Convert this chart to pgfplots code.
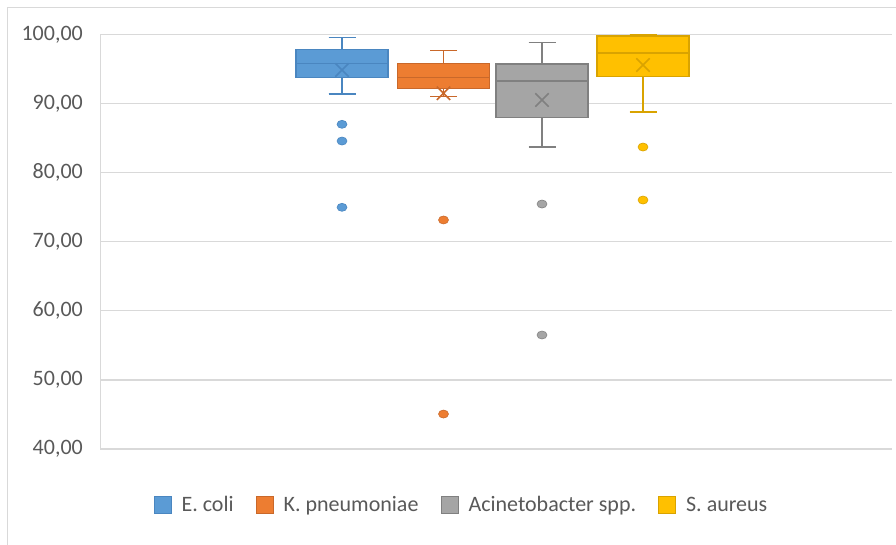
\documentclass[border=0pt]{standalone}
\usepackage{pgfplots}
\pgfplotsset{compat=1.18}
\usepgfplotslibrary{statistics}
\usepackage{fontspec}
\setmainfont{Carlito}
\definecolor{cBlue}{HTML}{5B9BD5}
\definecolor{dBlue}{HTML}{4A86C0}
\definecolor{cOrange}{HTML}{ED7D31}
\definecolor{dOrange}{HTML}{C9682A}
\definecolor{cGray}{HTML}{A5A5A5}
\definecolor{dGray}{HTML}{808080}
\definecolor{cGold}{HTML}{FFC000}
\definecolor{dGold}{HTML}{D9A300}
\definecolor{gridc}{HTML}{D9D9D9}
\definecolor{tickc}{HTML}{595959}
\begin{document}
\begin{tikzpicture}
\useasboundingbox (0,0) rectangle (896pt,545pt);
\draw[gridc, line width=0.8pt] (7.5pt,-10pt) rectangle (910pt,537.5pt);
\begin{axis}[
  at={(100pt,96pt)}, anchor=south west,
  scale only axis, width=792pt, height=414.5pt,
  xmin=100, xmax=892, ymin=40, ymax=100,
  ytick={40,50,...,100},
  xtick=\empty,
  ymajorgrids, major grid style={gridc, line width=1.3pt},
  axis line style={draw=none},
  major tick length=0pt,
  /pgf/number format/fixed, /pgf/number format/fixed zerofill,
  /pgf/number format/precision=2, /pgf/number format/use comma,
  /pgf/number format/assume math mode=true,
  yticklabel style={text=tickc, inner sep=0pt, xshift=-17pt, font=\fontsize{22}{26}\selectfont},
  boxplot/draw direction=y,
  legend image code/.code={\draw[#1] (0pt,-8.5pt) rectangle (17pt,8.5pt);},
  legend cell align=left,
  legend columns=4,
  legend style={at={(0.4564,-0.135)}, anchor=center, draw=none, fill=none,
    font=\fontsize{22}{26}\selectfont, text=tickc,
    /tikz/every odd column/.append style={column sep=8pt},
    /tikz/every even column/.append style={column sep=20pt}},
]
\draw[gridc, line width=1.3pt] (rel axis cs:0,0) -- (rel axis cs:0,1);

\addplot[forget plot, solid, draw=dBlue, fill=cBlue, line width=1.5pt,
  mark=*, mark size=5pt, mark options={fill=cBlue, draw=dBlue, line width=0.6pt, yscale=0.8},
  boxplot/every average/.style={/tikz/mark=x, /tikz/mark size=9.5pt, /tikz/mark options={draw=dBlue, line width=1.5pt}},
  boxplot prepared={draw position=342, lower whisker=91.39, lower quartile=93.75, median=95.83,
    upper quartile=97.86, upper whisker=99.6, average=94.86, box extend=92, whisker extend=27}]
  table[row sep=\\, y index=0]{data\\ 87.0\\ 84.58\\ 74.99\\};

\addplot[forget plot, solid, draw=dOrange, fill=cOrange, line width=1.5pt,
  mark=*, mark size=5pt, mark options={fill=cOrange, draw=dOrange, line width=0.6pt, yscale=0.8},
  boxplot/every average/.style={/tikz/mark=x, /tikz/mark size=9.5pt, /tikz/mark options={draw=dOrange, line width=1.5pt}},
  boxplot prepared={draw position=443.5, lower whisker=91.05, lower quartile=92.15, median=93.8,
    upper quartile=95.77, upper whisker=97.65, average=91.5, box extend=92, whisker extend=27}]
  table[row sep=\\, y index=0]{data\\ 73.15\\ 45.06\\};

\addplot[forget plot, solid, draw=dGray, fill=cGray, line width=1.5pt,
  mark=*, mark size=5pt, mark options={fill=cGray, draw=dGray, line width=0.6pt, yscale=0.8},
  boxplot/every average/.style={/tikz/mark=x, /tikz/mark size=9.5pt, /tikz/mark options={draw=dGray, line width=1.5pt}},
  boxplot prepared={draw position=542, lower whisker=83.71, lower quartile=88.0, median=93.3,
    upper quartile=95.73, upper whisker=98.87, average=90.52, box extend=92, whisker extend=27}]
  table[row sep=\\, y index=0]{data\\ 75.46\\ 56.5\\};

\addplot[forget plot, solid, draw=dGold, fill=cGold, line width=1.5pt,
  mark=*, mark size=5pt, mark options={fill=cGold, draw=dGold, line width=0.6pt, yscale=0.8},
  boxplot/every average/.style={/tikz/mark=x, /tikz/mark size=9.5pt, /tikz/mark options={draw=dGold, line width=1.5pt}},
  boxplot prepared={draw position=643, lower whisker=88.78, lower quartile=93.95, median=97.32,
    upper quartile=99.78, upper whisker=100, average=95.58, box extend=92, whisker extend=27}]
  table[row sep=\\, y index=0]{data\\ 83.71\\ 76.04\\};

\addlegendimage{draw=dBlue, fill=cBlue, line width=1pt}
\addlegendentry{E. coli}
\addlegendimage{draw=dOrange, fill=cOrange, line width=1pt}
\addlegendentry{K. pneumoniae}
\addlegendimage{draw=dGray, fill=cGray, line width=1pt}
\addlegendentry{Acinetobacter spp.}
\addlegendimage{draw=dGold, fill=cGold, line width=1pt}
\addlegendentry{S. aureus}
\end{axis}
\end{tikzpicture}
\end{document}
